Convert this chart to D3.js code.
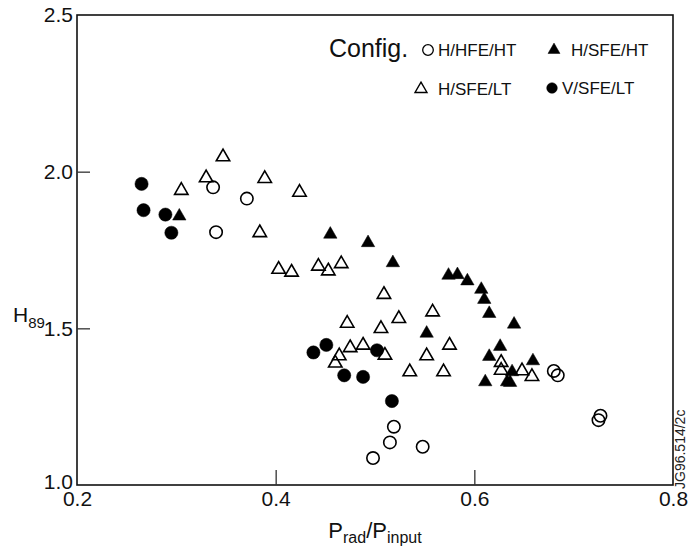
<!DOCTYPE html>
<html><head><meta charset="utf-8">
<script src="https://cdn.jsdelivr.net/npm/d3@7"></script>
<style>body{margin:0;background:#fff}svg{display:block;font-family:"Liberation Sans",Arial,sans-serif}</style>
</head><body><svg id="c" width="690" height="551"></svg>
<script>
const xTicks = [0.2, 0.4, 0.6, 0.8];
const yTicks = [1.0, 1.5, 2.0, 2.5];
const seriesNames = ["H/HFE/HT", "H/SFE/HT", "H/SFE/LT", "V/SFE/LT"];
const hHfeHt = [[0.337,1.950],[0.371,1.914],[0.340,1.807],[0.498,1.086],[0.519,1.186],[0.515,1.136],[0.548,1.122],[0.680,1.364],[0.684,1.350],[0.727,1.221],[0.725,1.207]];
const hSfeHt = [[0.303,1.858],[0.455,1.800],[0.493,1.773],[0.518,1.709],[0.574,1.669],[0.583,1.671],[0.593,1.651],[0.607,1.624],[0.610,1.592],[0.615,1.547],[0.640,1.513],[0.552,1.484],[0.626,1.442],[0.615,1.410],[0.611,1.329],[0.638,1.361],[0.633,1.329],[0.636,1.327],[0.659,1.396]];
const hSfeLt = [[0.305,1.940],[0.330,1.980],[0.347,2.047],[0.389,1.978],[0.424,1.934],[0.384,1.805],[0.403,1.688],[0.416,1.679],[0.443,1.698],[0.453,1.683],[0.466,1.706],[0.472,1.516],[0.475,1.438],[0.488,1.446],[0.464,1.412],[0.460,1.389],[0.509,1.608],[0.524,1.531],[0.506,1.499],[0.558,1.552],[0.510,1.414],[0.575,1.446],[0.552,1.412],[0.535,1.361],[0.569,1.361],[0.627,1.391],[0.627,1.366],[0.648,1.364],[0.658,1.346]];
const vSfeLt = [[0.265,1.961],[0.267,1.877],[0.289,1.863],[0.295,1.805],[0.438,1.423],[0.451,1.447],[0.469,1.350],[0.488,1.345],[0.502,1.430],[0.517,1.268]];

const svg = d3.select("#c");
const L = 77, R = 673, T = 15, B = 485;
const x = d3.scaleLinear().domain([0.2, 0.8]).range([L, R]);
const y = d3.scaleLinear().domain([1.0, 2.5]).range([B, T]);

// frame
svg.append("rect").attr("x", L).attr("y", T).attr("width", R - L).attr("height", B - T)
  .attr("fill", "none").attr("stroke", "#111").attr("stroke-width", 1.6);

// axes
const xAxis = d3.axisBottom(x).tickValues(xTicks).tickFormat(d3.format(".1f")).tickSizeInner(-15).tickSizeOuter(0).tickPadding(8);
const gx = svg.append("g").attr("transform", `translate(0,${B})`).call(xAxis);
const yAxis = d3.axisLeft(y).tickValues(yTicks).tickFormat(d3.format(".1f")).tickSizeInner(-13).tickSizeOuter(0).tickPadding(4);
const gy = svg.append("g").attr("transform", `translate(${L},0)`).call(yAxis);
[gx, gy].forEach(g => {
  g.select(".domain").remove();
  g.selectAll(".tick line").attr("stroke", "#333").attr("stroke-width", 1.3);
  g.selectAll(".tick text").attr("font-size", 21).attr("fill", "#111").attr("font-family", "Liberation Sans, Arial, sans-serif");
});
gx.selectAll(".tick text").attr("dy", "0.64em");
gx.selectAll(".tick").filter(d => d === 0.2 || d === 0.8).select("line").remove();
gy.selectAll(".tick").filter(d => d === 1.0 || d === 2.5).select("line").remove();
gy.selectAll(".tick").filter(d => d === 1.0).select("text").attr("dy", "0.18em");

// titles
const xt = svg.append("text").attr("x", 375).attr("y", 538).attr("text-anchor", "middle").attr("font-size", 22).attr("fill", "#111");
xt.append("tspan").text("P");
xt.append("tspan").text("rad").attr("font-size", 16).attr("dy", 5);
xt.append("tspan").text("/P").attr("dy", -5);
xt.append("tspan").text("input").attr("font-size", 16).attr("dy", 5);
const yt = svg.append("text").attr("x", 13).attr("y", 322).attr("font-size", 21).attr("fill", "#111");
yt.append("tspan").text("H");
yt.append("tspan").text("89").attr("font-size", 15).attr("dy", 6);

svg.append("text").attr("transform", "translate(685,489) rotate(-90)").attr("font-size", 14).attr("fill", "#222").text("JG96.514/2c");

// markers
const triPath = d3.symbol().type(d3.symbolTriangle).size(78)();
const triSmall = d3.symbol().type(d3.symbolTriangle).size(62)();
function drawCircles(data, filled) {
  svg.append("g").selectAll("circle").data(data).join("circle")
    .attr("cx", d => x(d[0])).attr("cy", d => y(d[1])).attr("r", filled ? 6.6 : 6.2)
    .attr("fill", filled ? "#000" : "#fff").attr("fill-opacity", filled ? 1 : 0)
    .attr("stroke", "#000").attr("stroke-width", filled ? 0.5 : 1.6);
}
function drawTris(data, filled) {
  svg.append("g").selectAll("path").data(data).join("path")
    .attr("d", triPath).attr("transform", d => `translate(${x(d[0])},${y(d[1])})`)
    .attr("fill", filled ? "#000" : "none").attr("stroke", "#000")
    .attr("stroke-width", filled ? 0.5 : 1.6).attr("stroke-linejoin", "miter");
}
drawTris(hSfeLt, false);
drawCircles(hHfeHt, false);
drawTris(hSfeHt, true);
drawCircles(vSfeLt, true);

// legend
const lg = svg.append("g").attr("font-size", 17).attr("fill", "#111");
lg.append("text").attr("x", 329).attr("y", 57).attr("font-size", 25).text("Config.");
const legendItems = [
  {name: seriesNames[0], kind: "circle", filled: false, lx: 428, ly: 50},
  {name: seriesNames[1], kind: "tri", filled: true, lx: 554, ly: 50},
  {name: seriesNames[2], kind: "tri", filled: false, lx: 421, ly: 89},
  {name: seriesNames[3], kind: "circle", filled: true, lx: 552, ly: 88}
];
legendItems.forEach(it => {
  if (it.kind === "circle") {
    lg.append("circle").attr("cx", it.lx).attr("cy", it.ly).attr("r", 5.3)
      .attr("fill", it.filled ? "#000" : "none").attr("stroke", "#000").attr("stroke-width", it.filled ? 0.5 : 1.3);
  } else {
    lg.append("path").attr("d", triSmall).attr("transform", `translate(${it.lx},${it.ly})`)
      .attr("fill", it.filled ? "#000" : "none").attr("stroke", "#000").attr("stroke-width", it.filled ? 0.5 : 1.4);
  }
  lg.append("text").attr("x", it.lx + (it.kind === "circle" ? 10 : 17)).attr("y", it.ly + 6).text(it.name);
});
</script></body></html>
